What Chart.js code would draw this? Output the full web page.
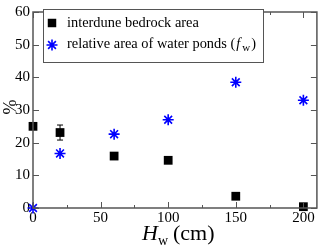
<!DOCTYPE html>
<html>
<head>
<meta charset="utf-8">
<script src="https://cdn.jsdelivr.net/npm/chart.js"></script>
<style>
  html, body { margin: 0; padding: 0; background: #fff; }
  #wrap { width: 324px; height: 250px; }
</style>
</head>
<body>
<div id="wrap"><canvas id="chart"></canvas></div>
<script>
// dados
const hw = [0, 20, 60, 100, 150, 200];
const bedrockArea = [25, 23.1, 15.9, 14.6, 3.6, 0.4];
const bedrockErr = [0, 2.3, 0, 0, 0, 0];
const pondArea = [0, 16.7, 22.6, 27, 38.5, 33];
const xTicks = [0, 50, 100, 150, 200];
const yTicks = [0, 10, 20, 30, 40, 50, 60];

const FONT = '"Liberation Serif", "DejaVu Serif", serif';
const AXIS = '#555';

function pts(xs, ys) {
    return xs.map((x, i) => ({ x: x, y: ys[i] }));
}

// ticks para dentro, caixa completa, barras de erro, títulos e legenda
const framePlugin = {
    id: 'frame',
    afterDatasetsDraw(chart) {
        const ctx = chart.ctx;
        const a = chart.chartArea;
        const sx = chart.scales.x, sy = chart.scales.y;
        ctx.save();

        // barras de erro
        ctx.strokeStyle = '#000';
        ctx.lineWidth = 1;
        hw.forEach((x, i) => {
            if (!bedrockErr[i]) return;
            const px = sx.getPixelForValue(x);
            const top = sy.getPixelForValue(bedrockArea[i] + bedrockErr[i]);
            const bot = sy.getPixelForValue(bedrockArea[i] - bedrockErr[i]);
            ctx.beginPath();
            ctx.moveTo(px, top); ctx.lineTo(px, bot);
            ctx.moveTo(px - 3, top); ctx.lineTo(px + 3, top);
            ctx.moveTo(px - 3, bot); ctx.lineTo(px + 3, bot);
            ctx.stroke();
        });

        // caixa
        ctx.strokeStyle = AXIS;
        ctx.lineWidth = 1.5;
        ctx.strokeRect(a.left, a.top, a.right - a.left, a.bottom - a.top);

        // ticks
        ctx.lineWidth = 1;
        for (let v = 0; v <= 200; v += 25) {
            const px = Math.round(sx.getPixelForValue(v)) + 0.5;
            const len = v % 50 === 0 ? 6 : 3;
            ctx.beginPath();
            ctx.moveTo(px, a.bottom); ctx.lineTo(px, a.bottom - len);
            ctx.moveTo(px, a.top); ctx.lineTo(px, a.top + len);
            ctx.stroke();
        }
        yTicks.forEach(v => {
            const py = Math.round(sy.getPixelForValue(v)) + 0.5;
            ctx.beginPath();
            ctx.moveTo(a.left, py); ctx.lineTo(a.left + 6, py);
            ctx.moveTo(a.right, py); ctx.lineTo(a.right - 6, py);
            ctx.stroke();
        });

        // título eixo y
        ctx.fillStyle = '#000';
        ctx.font = '18px ' + FONT;
        ctx.textAlign = 'center';
        ctx.textBaseline = 'middle';
        ctx.save();
        ctx.translate(11, 107);
        ctx.rotate(-Math.PI / 2);
        ctx.fillText('%', 0, 0);
        ctx.restore();

        // título eixo x: H_w (cm)
        ctx.textAlign = 'left';
        ctx.textBaseline = 'alphabetic';
        let x0 = 142, yb = 240;
        ctx.font = 'italic 22px ' + FONT;
        ctx.fillText('H', x0, yb);
        x0 += ctx.measureText('H').width;
        ctx.font = '14px ' + FONT;
        ctx.fillText('w', x0, yb + 5);
        x0 += ctx.measureText('w').width + 5;
        ctx.font = '22px ' + FONT;
        ctx.fillText('(cm)', x0, yb);

        // legenda
        const lx = 43, ly = 9, lw = 220, lh = 53;
        ctx.fillStyle = '#fff';
        ctx.fillRect(lx, ly, lw, lh);
        ctx.strokeStyle = AXIS;
        ctx.lineWidth = 1;
        ctx.strokeRect(lx + 0.5, ly + 0.5, lw, lh);

        ctx.fillStyle = '#000';
        Chart.helpers.drawPoint(ctx, { pointStyle: 'rect', radius: 6, borderWidth: 0 }, 52, 23);
        ctx.strokeStyle = '#0000ff';
        ctx.lineWidth = 1.6;
        Chart.helpers.drawPoint(ctx, { pointStyle: 'star', radius: 5.5, borderWidth: 1.6 }, 52, 45);

        ctx.fillStyle = '#000';
        ctx.font = '14.4px ' + FONT;
        ctx.textBaseline = 'middle';
        ctx.fillText('interdune bedrock area', 67, 23);
        let tx = 67;
        const t2 = 'relative area of water ponds (';
        ctx.fillText(t2, tx, 44);
        tx += ctx.measureText(t2).width + 1;
        ctx.font = 'italic 14.4px ' + FONT;
        ctx.fillText('f', tx, 44);
        tx += ctx.measureText('f').width + 2;
        ctx.font = '11px ' + FONT;
        ctx.fillText('w', tx, 48);
        tx += ctx.measureText('w').width + 1;
        ctx.font = '14.4px ' + FONT;
        ctx.fillText(')', tx, 44);

        ctx.restore();
    }
};

new Chart(document.getElementById('chart'), {
    type: 'scatter',
    data: {
        datasets: [
            {
                label: 'interdune bedrock area',
                data: pts(hw, bedrockArea),
                pointStyle: 'rect',
                pointRadius: 6.2,
                pointHoverRadius: 6.2,
                backgroundColor: '#000',
                borderColor: '#000',
                borderWidth: 0,
                clip: false
            },
            {
                label: 'relative area of water ponds (fw)',
                data: pts(hw, pondArea),
                pointStyle: 'star',
                pointRadius: 5.5,
                pointHoverRadius: 5.5,
                borderColor: '#0000ff',
                backgroundColor: '#0000ff',
                borderWidth: 1.6,
                clip: false
            }
        ]
    },
    options: {
        responsive: true,
        maintainAspectRatio: false,
        animation: false,
        events: [],
        layout: { padding: { top: 5, right: 2, left: 0, bottom: 0 } },
        plugins: { legend: { display: false }, tooltip: { enabled: false } },
        scales: {
            x: {
                type: 'linear',
                min: 0, max: 210,
                afterBuildTicks: s => { s.ticks = xTicks.map(v => ({ value: v })); },
                afterFit: s => { s.height = 42; },
                grid: { display: false, drawTicks: false, tickLength: 0 },
                border: { display: false },
                ticks: { color: '#000', font: { family: FONT, size: 15 }, padding: 1, maxRotation: 0 }
            },
            y: {
                type: 'linear',
                min: 0, max: 60,
                afterBuildTicks: s => { s.ticks = yTicks.map(v => ({ value: v })); },
                afterFit: s => { s.width = 33; },
                grid: { display: false, drawTicks: false, tickLength: 0 },
                border: { display: false },
                ticks: { color: '#000', font: { family: FONT, size: 15 }, padding: 3 }
            }
        }
    },
    plugins: [framePlugin]
});
</script>
</body>
</html>
